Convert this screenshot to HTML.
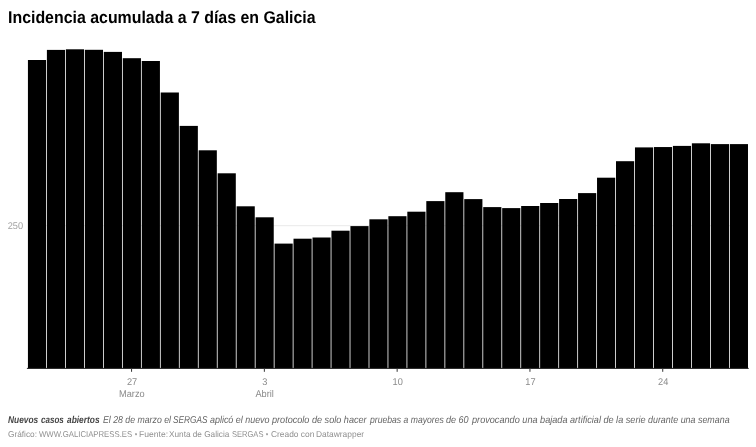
<!DOCTYPE html>
<html lang="es"><head><meta charset="utf-8"><title>Incidencia acumulada a 7 días en Galicia</title>
<style>
html,body{margin:0;padding:0;background:#fff}
body{width:756px;height:447px;position:relative;overflow:hidden;font-family:"Liberation Sans",sans-serif;text-rendering:geometricPrecision}
h1{position:absolute;left:8.2px;top:5.7px;margin:0;font-size:17px;line-height:24px;font-weight:700;color:#000;white-space:nowrap;transform-origin:0 0;transform:scaleX(0.9355)}
.notes{position:absolute;left:0;top:413px;margin:0;font-size:10px;line-height:16px;font-style:italic;color:#666;white-space:nowrap}
.notes span,.notes b{position:absolute;top:0;transform-origin:0 0}
.notes b{color:#444;font-weight:700}
.foot{position:absolute;left:0;top:427px;margin:0;font-size:8.5px;line-height:14px;color:#909090;white-space:nowrap}
.foot span{position:absolute;top:0;transform-origin:0 0}
#f2{left:134.7px;transform:scaleX(0.7)}
#f4{left:266px;transform:scaleX(0.7)}
#n1{left:102.78px;transform:scaleX(0.8733)}
#n2{left:173.19px;transform:scaleX(0.8293)}
#n3{left:209.78px;transform:scaleX(0.8924)}
#n4{left:272.33px;transform:scaleX(0.91)}
#n5{left:369.52px;transform:scaleX(0.862)}
#n6{left:445.57px;transform:scaleX(0.9051)}
#n7{left:471.73px;transform:scaleX(0.9139)}
#n8{left:569.97px;transform:scaleX(0.9119)}
#n9{left:647.98px;transform:scaleX(0.8899)}
#g1{left:7.51px;transform:scaleX(0.9754)}
#g2{left:39.2px;transform:scaleX(0.913)}
#g3{left:139.24px;transform:scaleX(1.0092)}
#g4{left:169.46px;transform:scaleX(0.9677)}
#g5{left:232.46px;transform:scaleX(0.887)}
#g6{left:270.81px;transform:scaleX(0.9871)}
#g7{left:315.76px;transform:scaleX(0.9885)}
#b1{left:7.79px;transform:scaleX(0.8366)}
#b2{left:41.3px;transform:scaleX(0.8036)}
#b3{left:67.1px;transform:scaleX(0.839)}
svg{position:absolute;left:0;top:0}
svg text{font-family:"Liberation Sans",sans-serif;font-size:9.8px;fill:#8a8a8a}
</style></head><body>
<h1 id="t">Incidencia acumulada a 7 días en Galicia</h1>
<svg width="756" height="447" viewBox="0 0 756 447">
<rect x="28" y="225.2" width="720" height="1" fill="#e9e9e9"/>
<text transform="translate(23.1,229) scale(0.94,1)" text-anchor="end" style="fill:#a2a2a2">250</text>
<g fill="#000">
<rect x="27.93" y="60.00" width="18.17" height="308.40"/>
<rect x="46.90" y="49.90" width="18.17" height="318.50"/>
<rect x="65.87" y="49.30" width="18.17" height="319.10"/>
<rect x="84.84" y="49.80" width="18.17" height="318.60"/>
<rect x="103.81" y="51.90" width="18.17" height="316.50"/>
<rect x="122.78" y="58.20" width="18.17" height="310.20"/>
<rect x="141.75" y="61.00" width="18.17" height="307.40"/>
<rect x="160.72" y="92.50" width="18.17" height="275.90"/>
<rect x="179.69" y="125.90" width="18.17" height="242.50"/>
<rect x="198.66" y="150.30" width="18.17" height="218.10"/>
<rect x="217.63" y="173.30" width="18.17" height="195.10"/>
<rect x="236.60" y="206.30" width="18.17" height="162.10"/>
<rect x="255.57" y="217.30" width="18.17" height="151.10"/>
<rect x="274.54" y="243.60" width="18.17" height="124.80"/>
<rect x="293.51" y="238.70" width="18.17" height="129.70"/>
<rect x="312.48" y="237.50" width="18.17" height="130.90"/>
<rect x="331.45" y="230.70" width="18.17" height="137.70"/>
<rect x="350.42" y="226.10" width="18.17" height="142.30"/>
<rect x="369.39" y="219.30" width="18.17" height="149.10"/>
<rect x="388.36" y="216.20" width="18.17" height="152.20"/>
<rect x="407.33" y="211.70" width="18.17" height="156.70"/>
<rect x="426.30" y="201.10" width="18.17" height="167.30"/>
<rect x="445.27" y="192.20" width="18.17" height="176.20"/>
<rect x="464.24" y="199.10" width="18.17" height="169.30"/>
<rect x="483.21" y="207.10" width="18.17" height="161.30"/>
<rect x="502.18" y="208.10" width="18.17" height="160.30"/>
<rect x="521.15" y="206.00" width="18.17" height="162.40"/>
<rect x="540.12" y="203.00" width="18.17" height="165.40"/>
<rect x="559.09" y="199.00" width="18.17" height="169.40"/>
<rect x="578.06" y="193.10" width="18.17" height="175.30"/>
<rect x="597.03" y="177.70" width="18.17" height="190.70"/>
<rect x="616.00" y="161.20" width="18.17" height="207.20"/>
<rect x="634.97" y="147.40" width="18.17" height="221.00"/>
<rect x="653.94" y="147.05" width="18.17" height="221.35"/>
<rect x="672.91" y="145.90" width="18.17" height="222.50"/>
<rect x="691.88" y="143.30" width="18.17" height="225.10"/>
<rect x="710.85" y="144.10" width="18.17" height="224.30"/>
<rect x="729.82" y="144.10" width="18.17" height="224.30"/>
</g>
<rect x="26.9" y="367.9" width="721.8" height="1" fill="#222"/>
<rect x="131.06" y="368" width="1" height="3.8" fill="#333"/>
<rect x="263.85" y="368" width="1" height="3.8" fill="#333"/>
<rect x="396.64" y="368" width="1" height="3.8" fill="#333"/>
<rect x="529.44" y="368" width="1" height="3.8" fill="#333"/>
<rect x="662.23" y="368" width="1" height="3.8" fill="#333"/>
<text transform="translate(132.06,385.3) scale(0.94,1)" text-anchor="middle">27</text>
<text transform="translate(131.87,396.7) scale(0.94,1)" text-anchor="middle">Marzo</text>
<text transform="translate(264.85,385.3) scale(0.94,1)" text-anchor="middle">3</text>
<text transform="translate(264.65,396.7) scale(0.94,1)" text-anchor="middle">Abril</text>
<text transform="translate(397.64,385.3) scale(0.94,1)" text-anchor="middle">10</text>
<text transform="translate(530.44,385.3) scale(0.94,1)" text-anchor="middle">17</text>
<text transform="translate(663.23,385.3) scale(0.94,1)" text-anchor="middle">24</text>
</svg>
<p class="notes"><b id="b1">Nuevos</b>
<b id="b2">casos</b>
<b id="b3">abiertos</b>
<span id="n1">El 28 de marzo el</span>
<span id="n2">SERGAS</span>
<span id="n3">aplicó el nuevo</span>
<span id="n4">protocolo de solo hacer</span>
<span id="n5">pruebas a mayores</span>
<span id="n6">de 60</span>
<span id="n7">provocando una bajada</span>
<span id="n8">artificial de la serie</span>
<span id="n9">durante una semana</span></p>
<p class="foot"><span id="g1">Gráfico:</span>
<span id="g2">WWW.GALICIAPRESS.ES</span>
<span id="f2">•</span>
<span id="g3">Fuente:</span>
<span id="g4">Xunta de Galicia</span>
<span id="g5">SERGAS</span>
<span id="f4">•</span>
<span id="g6">Creado con</span>
<span id="g7">Datawrapper</span></p>
</body></html>
